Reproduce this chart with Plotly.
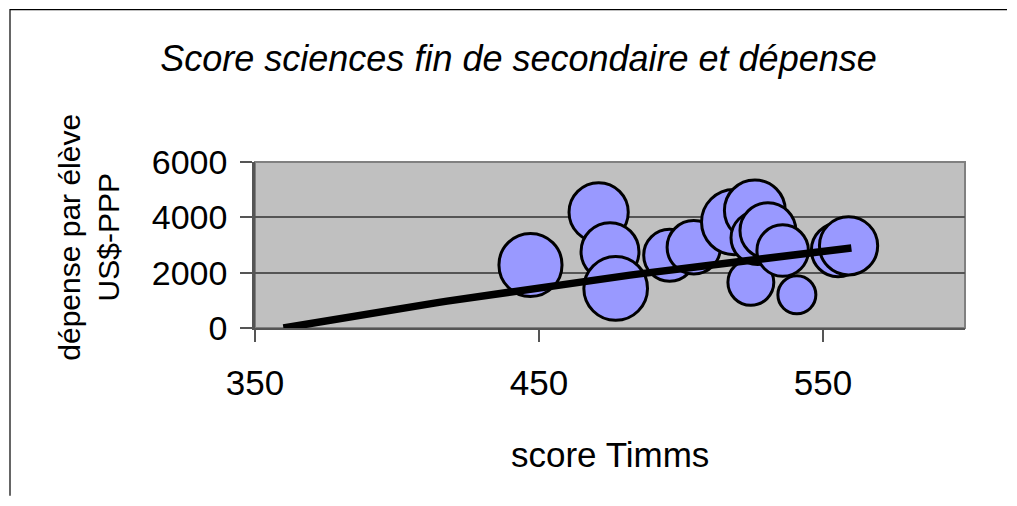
import numpy as np
import plotly.graph_objects as go

# Data
score_timms = [447, 471, 475, 477, 496, 504.5, 518.7, 524.6, 526, 527, 530.6, 535.8, 540.8, 555.3, 559]
depense = [2280, 4180, 2760, 1430, 2630, 2920, 3830, 1650, 4250, 3260, 3520, 2800, 1200, 2820, 2970]
taille = [102, 90, 86, 104, 69, 73, 109, 54, 95, 73, 80, 68, 37, 73, 87]

# Logarithmic trend line (Excel-style), coefficients
trend_a = 6548
trend_x0 = 360
trend_x1 = 560

x_ticks = [350, 450, 550]
y_ticks = [0, 2000, 4000, 6000]

FONT = "Liberation Sans, Arial, sans-serif"

fig = go.Figure()
fig.add_trace(go.Scatter(
    x=score_timms, y=depense, mode="markers",
    marker=dict(size=taille, sizemode="area", sizeref=4/78,
                color="#9999FF", opacity=1,
                line=dict(color="black", width=3)),
    hoverinfo="x+y", showlegend=False,
))

tx = np.linspace(trend_x0, trend_x1, 60)
ty = trend_a * np.log(tx / trend_x0)
fig.add_trace(go.Scatter(x=tx, y=ty, mode="lines", cliponaxis=False,
                         line=dict(color="black", width=7.5),
                         hoverinfo="skip", showlegend=False))

W, H = 1017, 506
L, R, T, B = 255, 965, 162.3, 328.3

fig.update_layout(
    width=W, height=H,
    margin=dict(l=L, r=W - R, t=T, b=H - B, pad=0),
    paper_bgcolor="white", plot_bgcolor="#C0C0C0",
    font=dict(family=FONT, color="black"),
    title=dict(text="Score sciences fin de secondaire et dépense",
               font=dict(family=FONT, size=36, color="black", style="italic"),
               x=518.5 / W, xanchor="center", xref="container",
               y=1 - 58 / H, yanchor="middle", yref="container"),
    xaxis=dict(range=[350, 600], tickvals=x_ticks, ticktext=[str(v) for v in x_ticks],
               showgrid=False, zeroline=False,
               showline=True, linecolor="#555555", linewidth=2,
               ticks="outside", ticklen=12, tickwidth=1.5, tickcolor="#555555",
               tickfont=dict(family=FONT, size=35, color="black"),
               ticklabelstandoff=11, fixedrange=True),
    yaxis=dict(range=[0, 6000], tickvals=y_ticks, ticktext=[str(v) for v in y_ticks],
               showgrid=True, gridcolor="#555555", gridwidth=1.5, zeroline=False,
               showline=True, linecolor="#555555", linewidth=2.5,
               ticks="outside", ticklen=12, tickwidth=1.5, tickcolor="#555555",
               tickfont=dict(family=FONT, size=34, color="black"),
               ticklabelstandoff=6, fixedrange=True),
    annotations=[
        dict(text="score Timms", xref="paper", yref="paper",
             x=0.5, y=(B - 455) / (B - T), xanchor="center", yanchor="middle",
             showarrow=False, font=dict(family=FONT, size=35, color="black")),
        dict(text="dépense par élève<br>US$-PPP", xref="paper", yref="paper",
             x=(89 - L) / (R - L), y=(B - 238) / (B - T), xanchor="center", yanchor="middle",
             textangle=-90, showarrow=False,
             font=dict(family=FONT, size=30, color="black")),
    ],
    shapes=[
        dict(type="rect", xref="paper", yref="paper", x0=0, x1=1, y0=0, y1=1,
             line=dict(color="#808080", width=2), layer="below"),
        dict(type="path", xref="paper", yref="paper",
             path="M {x0},{y0} L {x0},{y1} L {x1},{y1}".format(
                 x0=(10 - L) / (R - L), y0=(B - 496) / (B - T),
                 y1=(B - 10) / (B - T), x1=(1007 - L) / (R - L)),
             line=dict(color="black", width=1.2)),
    ],
)

fig.write_html("out.html",
               config={"displayModeBar": False},
               post_script="document.body.style.margin='0px';document.body.style.padding='0px';")
